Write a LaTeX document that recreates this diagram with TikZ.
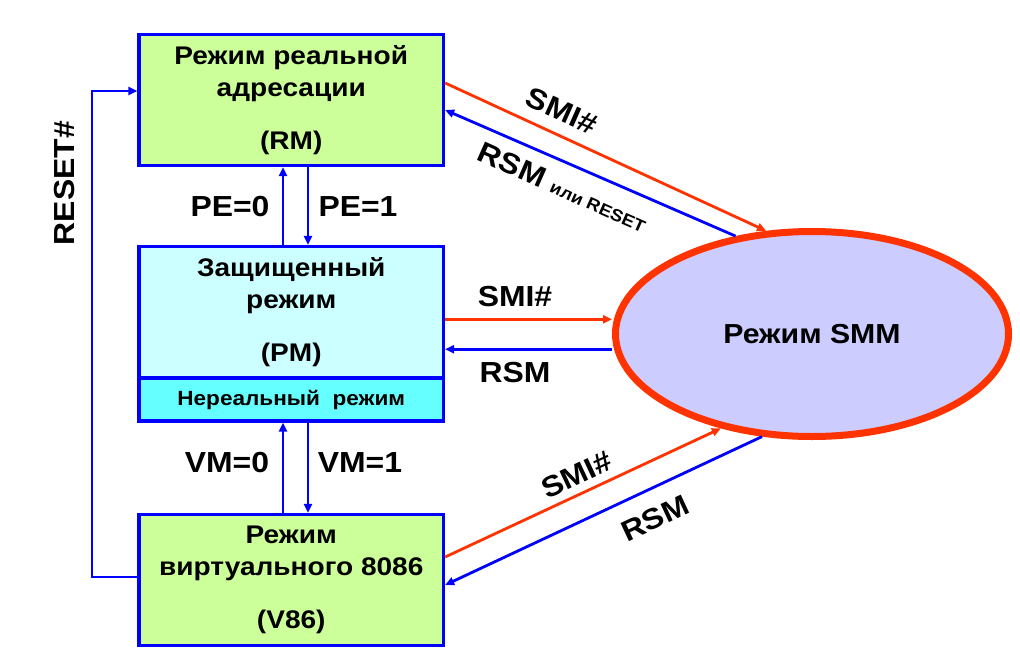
\documentclass[tikz,border=0pt]{standalone}
\usepackage{fontspec}
\setmainfont{Liberation Sans}[FakeStretch=1.1]
\usetikzlibrary{arrows.meta,shapes.geometric}

\definecolor{modeblue}{HTML}{0000FF}
\definecolor{smired}{HTML}{FF3300}
\definecolor{rmgreen}{HTML}{CCFF99}
\definecolor{pmcyan}{HTML}{CCFFFF}
\definecolor{unrealcyan}{HTML}{66FFFF}
\definecolor{smmlilac}{HTML}{CCCCFF}

\tikzset{
  modebox/.style={draw=modeblue, line width=3.3pt, inner sep=0pt,
    minimum width=304.5pt, minimum height=131pt, align=center,
    font=\fontsize{25.5}{32}\selectfont\bfseries},
  sig/.style={font=\fontsize{29}{29}\selectfont\bfseries},
  smiarrow/.style={->, draw=smired, line width=2.8pt},
  rsmarrow/.style={->, draw=modeblue, line width=2.8pt}
}

\begin{document}
\begin{tikzpicture}
  [x = 1pt, y = -1pt, >={Triangle[length=9pt,width=8pt]}]
    \useasboundingbox (0,0) rectangle (1020,648);

    \node[modebox, fill=rmgreen] (rm) at (291.25,100) {Режим реальной\\адресации\\[21pt](RM)};
    \node[modebox, fill=pmcyan, minimum height=131.5pt] (pm) at (291.25,312.25) {Защищенный\\режим\\[21pt](PM)};
    \node[modebox, fill=unrealcyan, minimum height=43pt,
      font=\fontsize{20.5}{20.5}\selectfont\bfseries] (unreal) at (291.25,399.5) {Нереальный\ \ режим};
    \node[modebox, fill=rmgreen] (v86) at (291.25,580) {Режим\\виртуального 8086\\[21pt](V86)};
    \node[ellipse, draw=smired, line width=7pt, fill=smmlilac, inner sep=0pt,
      minimum width=393pt, minimum height=205pt,
      font=\fontsize{27.5}{27.5}\selectfont\bfseries] (smm) at (812,334) {Режим SMM};

    \draw[rsmarrow] ([xshift=-8.25pt]pm.north) -- ([xshift=-8.25pt]rm.south);
    \draw[rsmarrow] ([xshift=16.75pt]rm.south) -- ([xshift=16.75pt]pm.north);
    \node[sig] (pe0) at (230,207) {PE=0};
    \node[sig] (pe1) at (358,207) {PE=1};

    \draw[rsmarrow] ([xshift=-8.25pt]v86.north) -- ([xshift=-8.25pt]unreal.south);
    \draw[rsmarrow] ([xshift=16.75pt]unreal.south) -- ([xshift=16.75pt]v86.north);
    \node[sig] (vm0) at (227,463) {VM=0};
    \node[sig] (vm1) at (360,463) {VM=1};

    \coordinate (rstop) at (92,91);
    \draw[rsmarrow] ([yshift=3pt]v86.west) -| (rstop) -- (rstop -| rm.west);
    \node[sig, rotate=90] (reset) at (65,183) {RESET\#};

    \draw[smiarrow] ([yshift=17pt]rm.east) -- (smm.114.6);
    \draw[rsmarrow] (smm.128.6) -- ([yshift=-10pt]rm.east);
    \node[sig, rotate=-24] (smitop) at (562,111) {SMI\#};
    \node[sig, rotate=-24] (rsmtop) at (563,187) {RSM {\fontsize{17}{17}\selectfont или RESET}};

    \draw[smiarrow] ([yshift=-7pt]pm.east) -- ([yshift=-7pt]pm.east -| smm.west);
    \draw[rsmarrow] ([yshift=-37pt]pm.east -| smm.west) -- ([yshift=-37pt]pm.east);
    \node[sig] (smimid) at (515,297) {SMI\#};
    \node[sig] (rsmmid) at (515,373) {RSM};

    \draw[smiarrow] ([yshift=23pt]v86.east) -- (smm.226.2);
    \draw[rsmarrow] (smm.244.3) -- ([yshift=-5pt]v86.east);
    \node[sig, rotate=25] (smibot) at (577,475) {SMI\#};
    \node[sig, rotate=25] (rsmbot) at (655,518) {RSM};
  \end{tikzpicture}
\end{document}
